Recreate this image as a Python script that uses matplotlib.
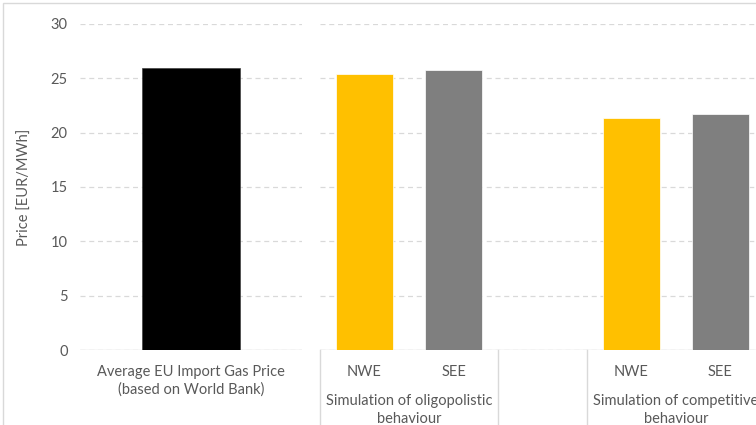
import matplotlib
matplotlib.use("Agg")
import matplotlib.pyplot as plt
from matplotlib.lines import Line2D
from matplotlib.patches import Rectangle

plt.rcParams['font.family'] = ['Lato', 'DejaVu Sans']

# Data
ref_label = ["Average EU Import Gas Price\n(based on World Bank)"]
ref_value = [25.92]
regions = ["NWE", "SEE", "NWE", "SEE"]
region_pos = [0, 1, 3, 4]
region_values = [25.43, 25.77, 21.38, 21.72]
region_colors = ["#FFC000", "#7F7F7F", "#FFC000", "#7F7F7F"]
groups = ["Simulation of oligopolistic\nbehaviour", "Simulation of competitive\nbehaviour"]
group_centers = [0.5, 3.5]
yticks = [0, 5, 10, 15, 20, 25, 30]

W, H = 756, 425
fig = plt.figure(figsize=(W / 100, H / 100), dpi=100)
txt = "#595959"
grid = "#D9D9D9"
fs = 10.5

def frac(x0, y0, x1, y1):
    return [x0 / W, 1 - y1 / H, (x1 - x0) / W, (y1 - y0) / H]

ax1 = fig.add_axes(frac(80, 24, 302, 350))
ax2 = fig.add_axes(frac(320, 24, 765, 350))

for ax in (ax1, ax2):
    ax.set_ylim(0, 30)
    ax.set_yticks(yticks)
    for s in ax.spines.values():
        s.set_visible(False)
    ax.grid(axis='y', color=grid, linestyle=(0, (4, 3)), linewidth=0.9)
    ax.set_axisbelow(True)
    ax.axhline(0, color=grid, linewidth=1.0, zorder=1)
    ax.tick_params(length=0, colors=txt, labelsize=fs)

# Left chart
ax1.bar([0], ref_value, width=0.44, color="black", edgecolor="#404040", linewidth=0.5, zorder=2)
ax1.set_xlim(-0.5, 0.5)
ax1.set_xticks([0])
ax1.set_xticklabels(ref_label, color=txt, fontsize=fs, linespacing=1.3)
ax1.tick_params(axis='y', pad=9)
ax1.tick_params(axis='x', pad=11)
ax1.set_ylabel("Price [EUR/MWh]", color=txt, fontsize=fs, labelpad=13)

# Right chart
ax2.bar(region_pos, region_values, width=0.63, color=region_colors, edgecolor="white", linewidth=0.5, zorder=2)
ax2.set_xlim(-0.5, 4.5)
ax2.set_xticks(region_pos)
ax2.set_xticklabels(regions, color=txt, fontsize=fs)
ax2.tick_params(axis='x', pad=11)
ax2.tick_params(axis='y', labelleft=False)

tr = ax2.get_xaxis_transform()
for xc, g in zip(group_centers, groups):
    ax2.annotate(g, xy=(xc, 0), xycoords=tr, xytext=(0, -32), textcoords='offset points',
                 ha='center', va='top', color=txt, fontsize=fs, linespacing=1.3,
                 annotation_clip=False)
for xs in [-0.5, 2 - 0.5, 2.5]:
    ax2.add_line(Line2D([xs, xs], [0, -0.3], transform=tr, color=grid, linewidth=1.0, clip_on=False))

# chart border
fig.add_artist(Rectangle((3 / W, -0.1), 1.2, 1 - 3 / H + 0.1, transform=fig.transFigure,
                         fill=False, edgecolor=grid, linewidth=1.0))

fig.savefig("out.png", dpi=100)
